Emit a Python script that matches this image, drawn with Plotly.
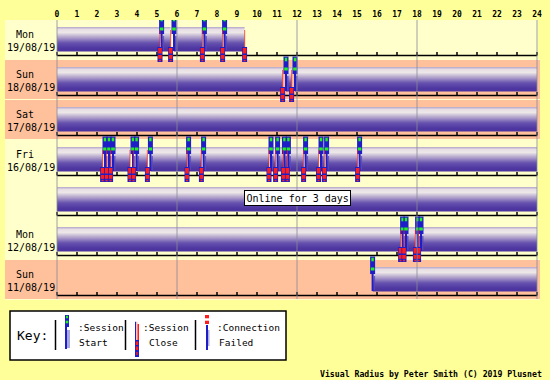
import plotly.graph_objects as go

# ---------------- data ----------------
HOURS = list(range(25))
HOUR_LABELS = [str(h) for h in HOURS]
GRID_HOURS = [0, 6, 12, 18, 24]

DAY_NAMES = ["Mon", "Sun", "Sat", "Fri", "", "Mon", "Sun"]
DAY_DATES = ["19/08/19", "18/08/19", "17/08/19", "16/08/19", "", "12/08/19", "11/08/19"]
WEEKEND = [False, True, True, False, False, False, True]

SESSION_STARTS = [
    [0, 5.23, 5.85, 7.37, 8.38],
    [0, 11.45, 11.9],
    [0],
    [0, 2.4, 2.6, 2.8, 3.8, 3.98, 4.67, 6.58, 7.33, 10.7, 11.03, 11.37, 11.57, 12.43, 13.2, 13.48, 15.13],
    [0],
    [0, 17.28, 17.45, 18.03, 18.2],
    [15.78],
]
SESSION_ENDS = [
    [5.15, 5.68, 7.27, 8.28, 9.38],
    [11.28, 11.73, 24],
    [24],
    [2.28, 2.48, 2.68, 3.65, 3.83, 4.52, 6.5, 7.22, 10.6, 10.93, 11.32, 11.52, 12.33, 13.08, 13.37, 15.03, 24],
    [24],
    [17.18, 17.35, 17.92, 18.08, 24],
    [24],
]
NOTE_ROW = 4
NOTE_HOUR = 12
NOTE_TEXT = "Online for 3 days"
FOOTER = "Visual Radius by Peter Smith (C) 2019 Plusnet"

# ---------------- style ----------------
BG = "#FFFF99"
LIGHT = "#FFFFCC"
SALMON = "#FFC09C"
BLUE = "#1E1EC8"
GREEN = "#22EE22"
RED = "#FF1E1E"
MONO = "DejaVu Sans Mono"
BAND_SCALE = [[0, "#B4A4CA"], [0.1, "#E6DEE4"], [0.22, "#EEE8E8"], [0.45, "#A898C8"],
              [0.65, "#6652AE"], [0.85, "#5038A2"], [1, "#4A329C"]]

X0, PXH = 57, 20          # pixel of hour 0, pixels per hour
ROW_TOP0, ROW_H = 20, 40


def H(px):
    return (px - X0) / PXH


def P(px):
    return px / PXH


fig = go.Figure()
shapes = []


def rect(x0, x1, y0, y1, color, layer="above", opacity=1, line_color=None, line_width=0):
    shapes.append(dict(type="rect", xref="x", yref="y", x0=x0, x1=x1, y0=y0, y1=y1,
                       fillcolor=color, opacity=opacity, layer=layer,
                       line=dict(width=line_width, color=line_color or color)))


annotations = []
for i in range(len(DAY_NAMES)):
    T = ROW_TOP0 + i * ROW_H
    col = SALMON if WEEKEND[i] else LIGHT
    rect(H(5), H(57), T, T + 39, col, layer="below")
    rect(0, H(540 if WEEKEND[i] else 538), T, T + 39, col, layer="below")
    rect(H(5), H(540), T + 39, T + 40, LIGHT, layer="below")
    if DAY_NAMES[i]:
        annotations.append(dict(x=H(31), y=T + 20.5, text=DAY_NAMES[i] + "\u00a0\u00a0<br>" + DAY_DATES[i],
                                showarrow=False, align="center",
                                font=dict(family=MONO, size=10, color="black")))

    # bands
    bx, by = [], []
    for s, e in zip(SESSION_STARTS[i], SESSION_ENDS[i]):
        bx += [s, e, e, s, s, None]
        by += [T + 7, T + 7, T + 31.5, T + 31.5, T + 7, None]
    fig.add_trace(go.Scatter(x=bx, y=by, mode="lines", fill="toself", line=dict(width=0),
                             fillgradient=dict(type="vertical", colorscale=BAND_SCALE,
                                               start=T + 7, stop=T + 31.5),
                             hoverinfo="skip", showlegend=False))

    # axis line + ticks
    tx, ty = [0, 24, None], [T + 35.5, T + 35.5, None]
    for h in HOURS:
        tx += [h, h, None]
        ty += [T + 32, T + 35.5, None]
    fig.add_trace(go.Scatter(x=tx, y=ty, mode="lines", line=dict(color="black", width=1.5),
                             hoverinfo="skip", showlegend=False))

    # session start glyphs
    for s in SESSION_STARTS[i]:
        if s <= 0:
            continue
        rect(s - P(1), s + P(1), T + 12, T + 31, BLUE)
        rect(s + P(1), s + P(2.5), T + 16, T + 30, "#5A4AB8", opacity=0.8)
        rect(s - P(2.5), s + P(2.5), T - 3.5, T + 14, BLUE)
        rect(s - P(1.2), s + P(1.2), T - 2.3, T + 1.3, GREEN)
        rect(s - P(1.8), s + P(1.8), T + 7.5, T + 10.5, GREEN)
    # session close glyphs
    for e in SESSION_ENDS[i]:
        if e >= 24:
            continue
        rect(e - P(0.6), e + P(0.6), T + 10, T + 27, RED, opacity=0.6)
        rect(e - P(2.5), e + P(2.5), T + 27, T + 42, BLUE)
        rect(e - P(1.8), e + P(1.8), T + 28, T + 33.5, RED)
        rect(e - P(1.8), e + P(1.8), T + 35, T + 38.8, RED)
        rect(e - P(1), e + P(1), T + 39.8, T + 41.3, RED)

# grid lines
for g in GRID_HOURS:
    shapes.append(dict(type="line", xref="x", yref="y", x0=g, x1=g, y0=ROW_TOP0,
                       y1=ROW_TOP0 + len(DAY_NAMES) * ROW_H - 1,
                       line=dict(color="#8A8A9A", width=1), opacity=0.8, layer="above"))

# note
NT = ROW_TOP0 + NOTE_ROW * ROW_H
annotations.append(dict(x=NOTE_HOUR, y=NT + 17.5, text=NOTE_TEXT, showarrow=False,
                        font=dict(family=MONO, size=10, color="black"),
                        bgcolor="white", bordercolor="black", borderwidth=1, borderpad=1.5))

# ---------------- key ----------------
rect(H(10), H(286), 311, 360, "white", line_color="black", line_width=1.5)
for sx in [55.5, 125.5, 195.5]:
    shapes.append(dict(type="line", xref="x", yref="y", x0=H(sx), x1=H(sx), y0=320, y1=350,
                       line=dict(color="black", width=1.5)))
annotations.append(dict(x=H(15), y=335, text="Key:", showarrow=False, xanchor="left",
                        font=dict(family=MONO, size=13, color="black")))
# start icon
rect(H(65), H(67), 327, 349, BLUE)
rect(H(67), H(70), 330, 348, "#A8A8E0")
rect(H(65), H(69), 315, 327, BLUE)
rect(H(66), H(68), 315.8, 318.3, GREEN)
rect(H(65.7), H(68.3), 320.7, 323.3, GREEN)
# close icon
rect(H(135), H(136), 321.7, 340, BLUE)
rect(H(136), H(137.5), 321.7, 340, "#F4C0C0")
rect(H(137.5), H(139), 324, 340, RED)
rect(H(135), H(139), 340, 357, BLUE)
rect(H(135.8), H(138.2), 341.5, 345, RED)
rect(H(135.8), H(138.2), 346.5, 350, RED)
rect(H(136.3), H(137.7), 352, 355, RED)
# failed icon
rect(H(205), H(209), 315, 318.3, RED)
rect(H(205), H(209), 320.7, 324, RED)
rect(H(206), H(208), 325, 350, BLUE)
rect(H(208), H(209.5), 330, 346, "#B0B0E4")

KEY_TEXT = [(76, ":Session", 77, "Start"), (141, ":Session", 146.5, "Close"),
            (215, ":Connection", 216.5, "Failed")]
for x1, t1, x2, t2 in KEY_TEXT:
    annotations.append(dict(x=H(x1), y=327.5, text=t1, showarrow=False, xanchor="left",
                            font=dict(family=MONO, size=9.5, color="black")))
    annotations.append(dict(x=H(x2), y=342, text=t2, showarrow=False, xanchor="left",
                            font=dict(family=MONO, size=9.5, color="black")))

annotations.append(dict(x=H(544), y=373.5, text=FOOTER, showarrow=False, xanchor="right",
                        font=dict(family=MONO, size=8.2, color="black", weight="bold")))

fig.update_layout(
    width=550, height=380,
    margin=dict(l=0, r=0, t=20, b=0, pad=0),
    paper_bgcolor=BG, plot_bgcolor=BG,
    shapes=shapes, annotations=annotations,
    showlegend=False,
    xaxis=dict(range=[H(0), H(550)], side="top", tickvals=HOURS, ticktext=HOUR_LABELS,
               tickfont=dict(family=MONO, size=8, color="black", weight="bold"),
               ticks="", showgrid=False, zeroline=False, showline=False, fixedrange=True),
    yaxis=dict(range=[380, 20], visible=False, fixedrange=True),
)
fig.write_html("out.html", config={"displayModeBar": False},
               post_script="document.body.style.margin='0px';document.body.style.overflow='hidden';")
